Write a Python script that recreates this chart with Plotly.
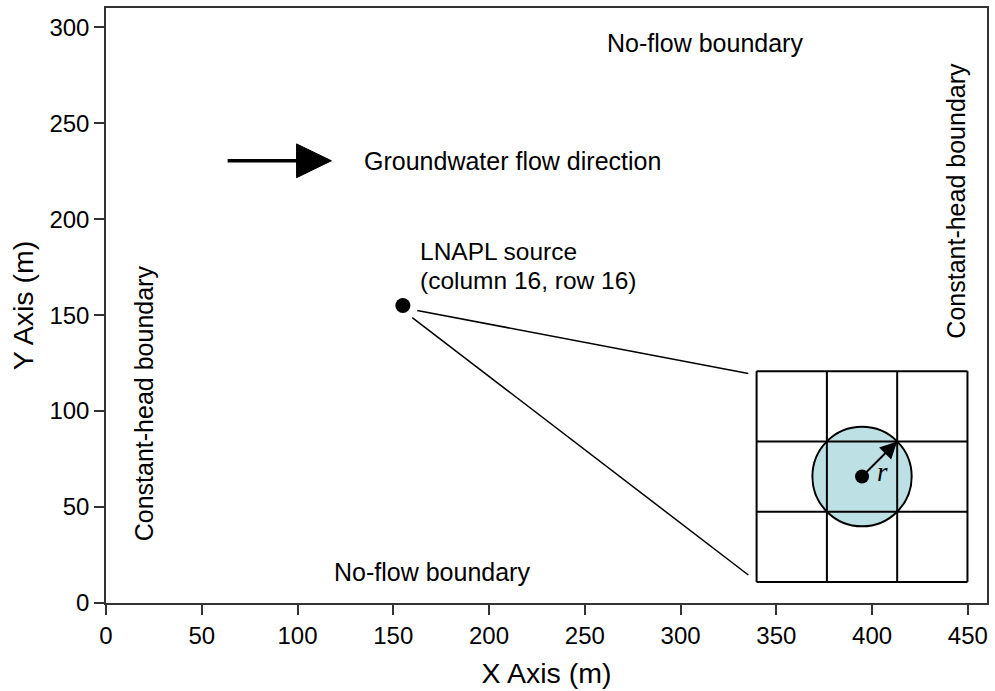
import plotly.graph_objects as go
import math

# ---- data ----
x_ticks = [0, 50, 100, 150, 200, 250, 300, 350, 400, 450]
y_ticks = [0, 50, 100, 150, 200, 250, 300]
x_range = [0, 460]
y_range = [0, 310]

source_xy = [155, 155]                      # LNAPL source
grid_x_edges = [339.7, 376.4, 413.1, 449.8]  # inset grid column edges
grid_y_edges = [11.0, 47.6, 84.2, 120.8]     # inset grid row edges
leader_start_top = [162.5, 152.4]
leader_end_top = [335.4, 119.6]
leader_start_bot = [159.9, 148.7]
leader_end_bot = [335.4, 14.6]

flow_shaft_x = [63.5, 100.0]
flow_y = 230.4
flow_head_x = [99.5, 117.7]
flow_head_half = 8.8

labels = {
    "flow": ("Groundwater flow direction", 133.9, 230.4),
    "top": ("No-flow boundary", 313.0, 291.7),
    "bottom": ("No-flow boundary", 170.3, 16.1),
    "source1": ("LNAPL source", 163.5, 183.0),
    "source2": ("(column 16, row 16)", 163.3, 168.0),
    "left": ("Constant-head boundary", 20.3, 104.0),
    "right": ("Constant-head boundary", 443.8, 209.6),
}

FONT = "Liberation Sans, Arial, sans-serif"

fig = go.Figure()

# inset cell centre and radius through grid corners
cx = (grid_x_edges[1] + grid_x_edges[2]) / 2
cy = (grid_y_edges[1] + grid_y_edges[2]) / 2
R = math.hypot(grid_x_edges[2] - cx, grid_y_edges[2] - cy)

shapes = []
shapes.append(dict(type="circle", xref="x", yref="y", x0=cx - R, x1=cx + R,
                   y0=cy - R, y1=cy + R, fillcolor="#BDE0E4",
                   line=dict(color="black", width=2), layer="below"))
for gx in grid_x_edges:
    shapes.append(dict(type="line", xref="x", yref="y", x0=gx, x1=gx,
                       y0=grid_y_edges[0], y1=grid_y_edges[-1],
                       line=dict(color="black", width=2), layer="below"))
for gy in grid_y_edges:
    shapes.append(dict(type="line", xref="x", yref="y", x0=grid_x_edges[0], x1=grid_x_edges[-1],
                       y0=gy, y1=gy, line=dict(color="black", width=2), layer="below"))
for s, e in [(leader_start_top, leader_end_top), (leader_start_bot, leader_end_bot)]:
    shapes.append(dict(type="line", xref="x", yref="y", x0=s[0], y0=s[1], x1=e[0], y1=e[1],
                       line=dict(color="black", width=1.5), layer="below"))
shapes.append(dict(type="line", xref="x", yref="y", x0=flow_shaft_x[0], x1=flow_shaft_x[1],
                   y0=flow_y, y1=flow_y, line=dict(color="black", width=3.5)))
shapes.append(dict(type="path", xref="x", yref="y",
                   path=f"M {flow_head_x[0]} {flow_y - flow_head_half} L {flow_head_x[0]} {flow_y + flow_head_half} L {flow_head_x[1]} {flow_y} Z",
                   fillcolor="black", line=dict(color="black", width=1)))

fig.add_trace(go.Scatter(x=[source_xy[0]], y=[source_xy[1]], mode="markers",
                         marker=dict(size=15, color="black"), showlegend=False,
                         hoverinfo="skip"))
fig.add_trace(go.Scatter(x=[cx], y=[cy], mode="markers",
                         marker=dict(size=14, color="black"), showlegend=False,
                         hoverinfo="skip"))

annotations = []
annotations.append(dict(x=grid_x_edges[2], y=grid_y_edges[2], ax=cx, ay=cy,
                        xref="x", yref="y", axref="x", ayref="y", text="",
                        showarrow=True, arrowhead=2, arrowsize=1.7, arrowwidth=2,
                        arrowcolor="black"))
annotations.append(dict(x=cx + 10.5, y=cy + 2.5, xref="x", yref="y", text="<i>r</i>",
                        showarrow=False, font=dict(family="Liberation Serif, Times New Roman, serif",
                                                   size=27, color="black")))
for key, (txt, tx, ty) in labels.items():
    a = dict(x=tx, y=ty, xref="x", yref="y", text=txt, showarrow=False,
             font=dict(family=FONT, size=25, color="black"))
    if key in ("source1", "source2"):
        a["font"] = dict(family=FONT, size=24.5, color="black")
        a["borderpad"] = 0
    if key in ("flow", "source1", "source2"):
        a.update(xanchor="left", align="left")
    if key in ("left", "right"):
        a.update(textangle=-90)
    annotations.append(a)

fig.update_layout(
    width=995, height=691, autosize=False,
    margin=dict(l=106, r=6, t=8, b=88),
    plot_bgcolor="white", paper_bgcolor="white",
    shapes=shapes, annotations=annotations,
    font=dict(family=FONT, color="black"),
    xaxis=dict(range=x_range, tickvals=x_ticks, ticks="outside", ticklen=10,
               tickwidth=1.5, tickcolor="#333", showline=True, linecolor="#333",
               linewidth=1.5, mirror=True, showgrid=False, zeroline=False,
               tickfont=dict(size=24, family=FONT, color="black"),
               title=dict(text="X Axis (m)", font=dict(size=28.5, family=FONT, color="black"),
                          standoff=16)),
    yaxis=dict(range=y_range, tickvals=y_ticks, ticks="outside", ticklen=10,
               tickwidth=1.5, tickcolor="#333", showline=True, linecolor="#333",
               linewidth=1.5, mirror=True, showgrid=False, zeroline=False,
               tickfont=dict(size=24, family=FONT, color="black"),
               title=dict(text="Y Axis (m)", font=dict(size=28.5, family=FONT, color="black"),
                          standoff=7)),
)

fig.write_html("out.html",
               config={"displayModeBar": False},
               post_script="document.body.style.margin='0';"
                           "document.documentElement.style.overflow='hidden';")
